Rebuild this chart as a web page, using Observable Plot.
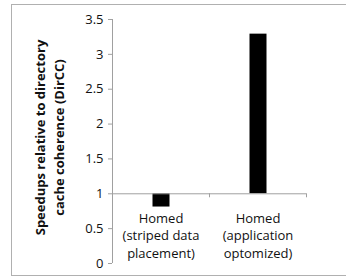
<!DOCTYPE html>
<html>
<head>
<meta charset="utf-8">
<script src="https://cdn.jsdelivr.net/npm/d3@7"></script>
<script src="https://cdn.jsdelivr.net/npm/@observablehq/plot@0.6"></script>
<style>
  html, body { margin: 0; padding: 0; background: #fff; }
  #wrap { position: relative; width: 346px; height: 280px; overflow: hidden; }
  #border { position: absolute; left: 11px; top: 4px; width: 400px; height: 272px; border: 1px solid #b0b0b0; box-sizing: border-box; }
  #chart { position: absolute; left: 0; top: 0; }
</style>
</head>
<body>
<div id="wrap"><div id="border"></div><div id="chart"></div></div>
<script>
const categories = ["Homed\n(striped data\nplacement)", "Homed\n(application\noptomized)"];
const speedups = [0.81, 3.29];
const yTicks = [0, 0.5, 1, 1.5, 2, 2.5, 3, 3.5];
const yLabel = "Speedups relative to directory\ncache coherence (DirCC)";
const baseline = 1;

const data = categories.map((c, i) => ({cat: c, pos: i, value: speedups[i]}));
const bounds = d3.range(categories.length + 1);

const chart = Plot.plot({
  width: 346,
  height: 280,
  marginLeft: 112,
  marginRight: 40,
  marginTop: 19,
  marginBottom: 17,
  style: {fontFamily: "Open Sans", fontSize: "13px", color: "#111", background: "transparent"},
  x: {domain: [0, categories.length], axis: null},
  y: {domain: [0, 3.5], axis: null},
  marks: [
    Plot.ruleX([0], {stroke: "#a0a0a0"}),
    Plot.axisY({ticks: yTicks, tickSize: 4, tickPadding: 5, stroke: "#a0a0a0", tickFormat: d => String(d), fontSize: 13, fill: "#111", label: null}),
    Plot.rectY(data, {x1: d => d.pos, x2: d => d.pos + 1, y1: baseline, y2: "value", fill: "#000", insetLeft: 40.5, insetRight: 39.5}),
    Plot.ruleY([baseline], {stroke: "#a0a0a0"}),
    Plot.ruleX(bounds, {x: d => d, y1: baseline, y2: baseline, insetBottom: -4, stroke: "#a0a0a0"}),
    Plot.text(data, {x: d => d.pos + 0.5, y: baseline, text: "cat", lineAnchor: "top", dy: 16, lineHeight: 1.38, fontSize: 13, fill: "#111"}),
    Plot.text([yLabel], {frameAnchor: "left", textAnchor: "middle", lineAnchor: "middle", text: d => d, rotate: -90, dx: -64, dy: -4, lineHeight: 1.5, fontWeight: "bold", fontSize: 13, fill: "#111"})
  ]
});
document.getElementById("chart").appendChild(chart);
</script>
</body>
</html>
